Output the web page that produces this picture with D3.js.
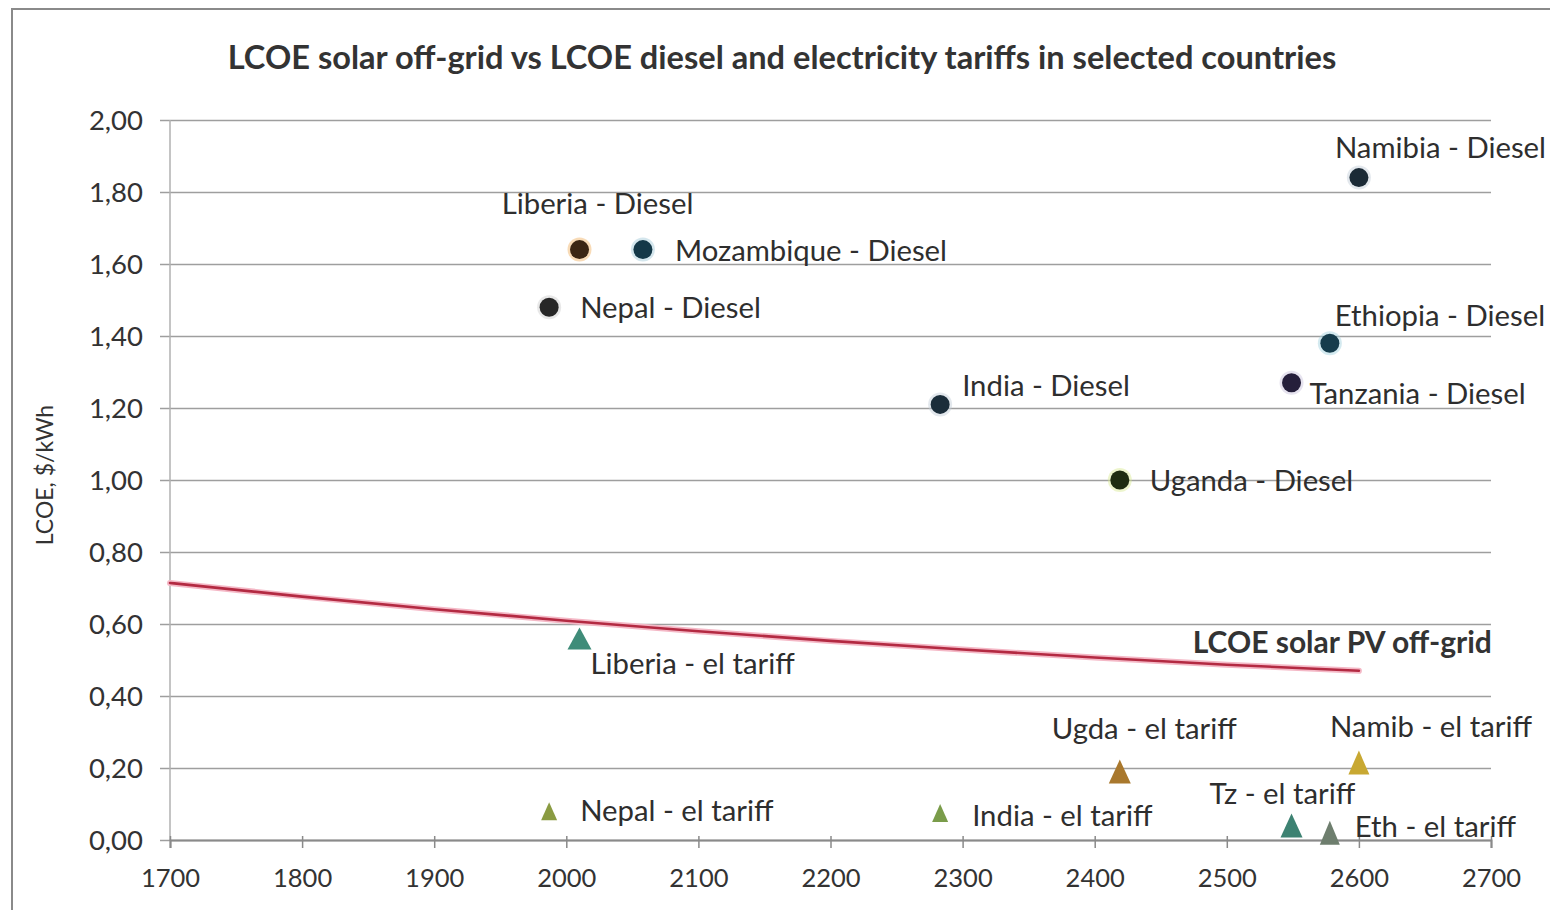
<!DOCTYPE html>
<html>
<head>
<meta charset="utf-8">
<script src="https://cdn.jsdelivr.net/npm/d3@7"></script>
<style>
  html, body { margin: 0; padding: 0; background: #ffffff; }
  svg { display: block; }
  text { font-family: Lato, "Open Sans", sans-serif; fill: #2b2b2b; }
</style>
</head>
<body>
<svg id="chart" width="1550" height="910"></svg>
<script>
// ---------------- DATA ----------------
const chartTitle = "LCOE solar off-grid vs LCOE diesel and electricity tariffs in selected countries";
const yAxisTitle = "LCOE, $/kWh";

const xTicks = [1700, 1800, 1900, 2000, 2100, 2200, 2300, 2400, 2500, 2600, 2700];
const yTicks = [0, 0.2, 0.4, 0.6, 0.8, 1.0, 1.2, 1.4, 1.6, 1.8, 2.0];

// Diesel LCOE points (circles)
const dieselLabels = ["Liberia - Diesel", "Mozambique - Diesel", "Nepal - Diesel", "Namibia - Diesel",
                      "Ethiopia - Diesel", "India - Diesel", "Tanzania - Diesel", "Uganda - Diesel"];
const dieselX = [2010, 2058, 1987, 2600, 2578, 2283, 2549, 2419];
const dieselY = [1.64, 1.64, 1.48, 1.84, 1.38, 1.21, 1.27, 1.00];

// Electricity tariffs (triangles)
const tariffLabels = ["Liberia - el tariff", "Nepal - el tariff", "India - el tariff", "Ugda - el tariff",
                      "Namib - el tariff", "Tz - el tariff", "Eth - el tariff"];
const tariffX = [2010, 1987, 2283, 2419, 2600, 2549, 2578];
const tariffY = [0.56, 0.08, 0.075, 0.19, 0.215, 0.04, 0.02];

// LCOE solar PV off-grid line
const solarLabel = "LCOE solar PV off-grid";
const solarX = [1700, 1800, 1900, 2000, 2100, 2200, 2300, 2400, 2500, 2600];
const solarY = [0.714, 0.676, 0.641, 0.609, 0.580, 0.553, 0.529, 0.507, 0.487, 0.470];

// ---------------- STYLES / PLACEMENT ----------------
const dieselColors = ["#3b2614", "#143848", "#272727", "#1b2a36", "#163c4c", "#1b2d3a", "#251f3b", "#1f2d12"];
const dieselHalo   = ["#f0b060", "#9fc8d8", "#cccccc", "#c0ccd6", "#9fd0dd", "#c0ccd6", "#c8c0dc", "#d8e890"];
// label offsets [dx, dy, anchor] relative to point pixel
const dieselLabelPos = [[18, -36, "middle"], [32, 11, "start"], [31, 11, "start"], [-24, -20, "start"],
                        [5, -17, "start"], [22, -8, "start"], [18, 21, "start"], [30, 11, "start"]];
const tariffColors = ["#3f8c79", "#8a9b42", "#7a9c4a", "#a9782d", "#c8a832", "#3d8272", "#6e7e6e"];
const tariffSize = [[24, 22], [16, 18], [16, 18], [22, 24], [21, 24], [22, 24], [20, 24]];
const tariffLabelPos = [[11, 36], [31, 10], [32, 13], [-68, -33], [-29, -26], [-82, -22], [25, 4]];
const labelFont = "29.3px";

// ---------------- CHART ----------------
const svg = d3.select("#chart");
const W = 1550, H = 910;

svg.append("rect").attr("x", 0).attr("y", 0).attr("width", W).attr("height", H).attr("fill", "#fff");
// outer chart border
svg.append("rect").attr("x", 12).attr("y", 9).attr("width", W + 20).attr("height", H + 20)
  .attr("fill", "none").attr("stroke", "#8a8a8a").attr("stroke-width", 2);

const x = d3.scaleLinear().domain([1700, 2700]).range([170, 1491]);
const y = d3.scaleLinear().domain([0, 2]).range([840, 120]);

// title
svg.append("text").attr("x", 782).attr("y", 69).attr("text-anchor", "middle")
  .style("font-size", "32.6px").style("font-weight", "700").style("fill", "#333")
  .text(chartTitle);

// gridlines + y labels
const fmt = v => d3.format(".2f")(v).replace(".", ",");
const yAxis = d3.axisLeft(y).tickValues(yTicks).tickFormat(fmt)
  .tickSize(-(x.range()[1] - x.range()[0])).tickPadding(27);
const gy = svg.append("g").attr("transform", `translate(${x.range()[0]},0)`).call(yAxis);
gy.select(".domain").remove();
gy.selectAll(".tick line").attr("x1", -10).attr("stroke", "#9e9e9e").attr("stroke-width", 1.7);
gy.selectAll(".tick text").style("font-size", "27.5px").style("fill", "#333")
  .style("font-family", "Lato, sans-serif").attr("dy", "0.35em");

// y axis line
svg.append("line").attr("x1", x.range()[0]).attr("x2", x.range()[0])
  .attr("y1", y(2)).attr("y2", y(0)).attr("stroke", "#b0b0b0").attr("stroke-width", 1.5);

// x axis
const xAxis = d3.axisBottom(x).tickValues(xTicks).tickFormat(d3.format("d")).tickSize(8).tickPadding(21);
const gx = svg.append("g").attr("transform", `translate(0,${y(0)})`).call(xAxis);
gx.select(".domain").attr("stroke", "#8a8a8a").attr("stroke-width", 2);
gx.selectAll(".tick line").attr("y1", -4).attr("stroke", "#8a8a8a").attr("stroke-width", 1.5);
gx.selectAll(".tick text").style("font-size", "25.5px").style("fill", "#333")
  .style("font-family", "Lato, sans-serif");

// y axis title
svg.append("text").attr("transform", `translate(53,${475}) rotate(-90)`)
  .attr("text-anchor", "middle").style("font-size", "23px").style("fill", "#333")
  .text(yAxisTitle);

// solar line
const solarPts = solarX.map((v, i) => [v, solarY[i]]);
const lineGen = d3.line().x(d => x(d[0])).y(d => y(d[1])).curve(d3.curveMonotoneX);
svg.append("path").attr("d", lineGen(solarPts)).attr("fill", "none")
  .attr("stroke", "#f4b8c6").attr("stroke-width", 6).attr("stroke-linecap", "round");
svg.append("path").attr("d", lineGen(solarPts)).attr("fill", "none")
  .attr("stroke", "#b32a42").attr("stroke-width", 2.6).attr("stroke-linecap", "round");
const lastS = solarPts[solarPts.length - 1];
svg.append("text").attr("x", x(lastS[0]) + 133).attr("y", y(lastS[1]) - 18)
  .attr("text-anchor", "end").style("font-size", "30px").style("font-weight", "700").style("fill", "#333")
  .text(solarLabel);

// diesel circles
const diesel = dieselLabels.map((l, i) => ({ label: l, x: dieselX[i], y: dieselY[i], i }));
const gD = svg.append("g");
gD.selectAll("circle.halo").data(diesel).join("circle").attr("class", "halo")
  .attr("cx", d => x(d.x)).attr("cy", d => y(d.y)).attr("r", 12)
  .attr("fill", d => dieselHalo[d.i]).attr("opacity", 0.45);
gD.selectAll("circle.pt").data(diesel).join("circle").attr("class", "pt")
  .attr("cx", d => x(d.x)).attr("cy", d => y(d.y)).attr("r", 9.5)
  .attr("fill", d => dieselColors[d.i]);
gD.selectAll("text").data(diesel).join("text")
  .attr("x", d => x(d.x) + dieselLabelPos[d.i][0])
  .attr("y", d => y(d.y) + dieselLabelPos[d.i][1])
  .attr("text-anchor", d => dieselLabelPos[d.i][2])
  .style("font-size", labelFont).style("fill", "#2e2e2e")
  .text(d => d.label);

// tariff triangles
const tariff = tariffLabels.map((l, i) => ({ label: l, x: tariffX[i], y: tariffY[i], i }));
const tri = (w, h) => `M0,${-h / 2}L${w / 2},${h / 2}L${-w / 2},${h / 2}Z`;
const gT = svg.append("g");
gT.selectAll("path").data(tariff).join("path")
  .attr("transform", d => `translate(${x(d.x)},${y(d.y)})`)
  .attr("d", d => tri(tariffSize[d.i][0], tariffSize[d.i][1]))
  .attr("fill", d => tariffColors[d.i]);
gT.selectAll("text").data(tariff).join("text")
  .attr("x", d => x(d.x) + tariffLabelPos[d.i][0])
  .attr("y", d => y(d.y) + tariffLabelPos[d.i][1])
  .style("font-size", labelFont).style("fill", "#2e2e2e")
  .text(d => d.label);
</script>
</body>
</html>
